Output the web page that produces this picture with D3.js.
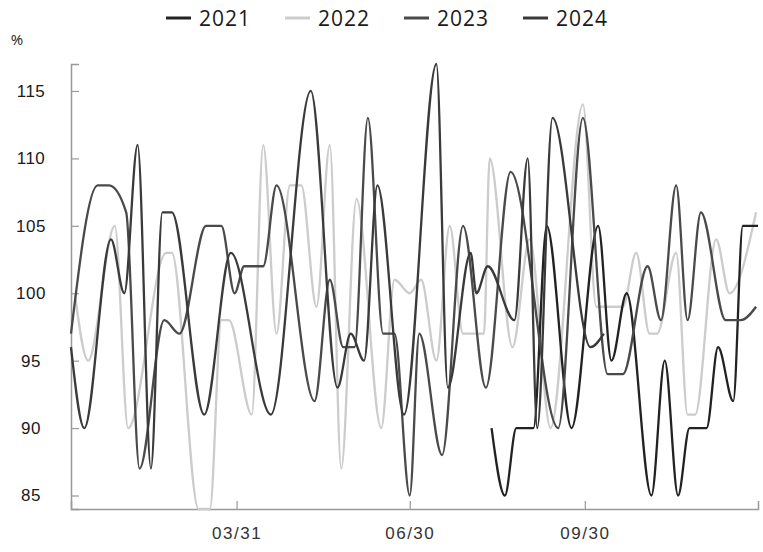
<!DOCTYPE html>
<html>
<head>
<meta charset="utf-8">
<script src="https://cdn.jsdelivr.net/npm/d3@7"></script>
<style>
  body { margin: 0; background: #fff; }
  svg { display: block; font-family: "Open Sans", sans-serif; }
</style>
</head>
<body>
<div id="chart"></div>
<script>
'use strict'

// series labels
const years = ['2021', '2022', '2023', '2024']

// dates (MM/DD) and values, one pair of arrays per year
const dates2021 = ['08/12','08/19','08/25','09/03','09/10','09/23','10/07','10/14','10/22','11/04','11/11','11/18','11/24','12/03','12/09','12/17','12/22','12/30']
const values2021 = [90, 85, 90, 90, 105, 90, 105, 95, 100, 85, 95, 85, 90, 90, 96, 92, 105, 105]

const dates2022 = ['01/05','01/12','01/26','02/02','02/22','02/25','03/11','03/17','03/23','03/27','04/08','04/14','04/21','04/28','05/04','05/12','05/19','05/25','06/02','06/15','06/22','06/30','07/06','07/14','07/21','07/28','08/08','08/11','08/23','09/01','09/12','09/29','10/06','10/20','10/27','11/03','11/07','11/17','11/23','11/27','12/08','12/15','12/29']
const values2022 = [100, 95, 105, 90, 103, 103, 84, 84, 98, 98, 91, 111, 97, 108, 108, 99, 111, 87, 107, 90, 101, 100, 101, 95, 105, 97, 97, 110, 96, 104, 90, 114, 99, 99, 103, 97, 97, 103, 91, 91, 104, 100, 106]

const dates2023 = ['01/03','01/17','01/23','02/01','02/08','02/21','03/01','03/15','03/23','03/30','04/04','04/14','04/21','05/11','05/19','05/26','06/01','06/08','06/16','06/22','06/30','07/05','07/17','07/28','08/09','08/22','09/16','09/29','10/12','10/20','11/02','11/09','11/17','11/23','11/30','12/13','12/21','12/29']
const values2023 = [97, 108, 108, 106, 87, 98, 97, 105, 105, 100, 102, 102, 108, 92, 101, 96, 96, 113, 97, 97, 85, 97, 88, 105, 93, 109, 90, 113, 94, 94, 102, 98, 108, 98, 106, 98, 98, 99]

const dates2024 = ['01/03','01/10','01/24','01/31','02/07','02/14','02/20','02/25','03/14','03/28','04/18','05/09','05/23','05/30','06/06','06/13','06/27','07/14','07/20','08/01','08/04','08/10','08/24','08/31','09/05','09/13','10/03','10/10']
const values2024 = [96, 90, 104, 100, 111, 87, 106, 106, 91, 103, 91, 115, 93, 97, 95, 108, 91, 117, 93, 103, 100, 102, 98, 110, 90, 113, 96, 97]

// x tick labels and y tick values
const xTicks = ['03/31', '06/30', '09/30']
const yTicks = [85, 90, 95, 100, 105, 110, 115]
const xStart = '01/03', xEnd = '12/30'

const colors = ['#222222', '#cccccc', '#4a4a4a', '#3a3a3a']

////////////////////////////////////
//////////// svg setup /////////////
////////////////////////////////////

const svgWidth = 763, svgHeight = 552
const margin = { left: 71, right: 5, top: 64, bottom: 43 }
const width = svgWidth - margin.left - margin.right
const height = svgHeight - margin.top - margin.bottom

const parse = d3.timeParse('%m/%d')

const series = [
    { name: years[0], dates: dates2021, values: values2021 },
    { name: years[1], dates: dates2022, values: values2022 },
    { name: years[2], dates: dates2023, values: values2023 },
    { name: years[3], dates: dates2024, values: values2024 }
].map(s => ({ name: s.name, points: s.dates.map((d, i) => ({ date: parse(d), value: s.values[i] })) }))

const svg = d3.select('#chart')
    .append('svg')
    .attr('width', svgWidth)
    .attr('height', svgHeight)

const g = svg.append('g')
    .attr('transform', `translate(${margin.left},${margin.top})`)

////////////////////////////////////
//////////// Scales ////////////////
////////////////////////////////////

const x = d3.scaleTime()
    .domain([parse(xStart), parse(xEnd)])
    .range([0, width])

const allValues = values2021.concat(values2022, values2023, values2024)
const y = d3.scaleLinear()
    .domain(d3.extent(allValues))
    .range([height, 0])

const color = d3.scaleOrdinal().domain(years).range(colors)

////////////////////////////////////
//////////// axes //////////////////
////////////////////////////////////

const yAxis = g.append('g')
    .call(d3.axisLeft(y).tickValues(yTicks).tickSize(-8).tickPadding(0))
yAxis.select('.domain').attr('stroke', '#999').attr('stroke-width', 1.5)
yAxis.selectAll('.tick line').attr('stroke', '#999').attr('stroke-width', 1.2)
yAxis.selectAll('.tick text')
    .attr('x', -40)
    .attr('text-anchor', 'middle')
    .attr('fill', '#1a1a1a')
    .style('font-size', '17px')
    .style('letter-spacing', '0.5px')

const xAxis = g.append('g')
    .attr('transform', `translate(0,${height})`)
    .call(d3.axisBottom(x).tickValues(xTicks.map(parse)).tickFormat(d3.timeFormat('%m/%d')).tickSize(-8).tickPadding(18))
xAxis.select('.domain').attr('stroke', '#999').attr('stroke-width', 1.5)
xAxis.selectAll('.tick line').attr('stroke', '#999').attr('stroke-width', 1.2)
xAxis.selectAll('.tick text')
    .attr('fill', '#333')
    .style('font-size', '17px')
    .style('letter-spacing', '1.5px')

svg.append('text')
    .attr('x', 17)
    .attr('y', 45)
    .attr('text-anchor', 'middle')
    .attr('fill', '#1a1a1a')
    .style('font-size', '15px')
    .text('%')

////////////////////////////////////
//////////// lines /////////////////
////////////////////////////////////

const line = d3.line()
    .x(d => x(d.date))
    .y(d => y(d.value))
    .curve(d3.curveMonotoneX)

// light series first so the darker ones sit on top
const drawOrder = [series[1], series[0], series[2], series[3]]

g.selectAll('.series')
    .data(drawOrder)
    .join('path')
    .attr('class', 'series')
    .attr('d', d => line(d.points))
    .attr('fill', 'none')
    .attr('stroke', d => color(d.name))
    .attr('stroke-width', 2.3)
    .attr('stroke-linejoin', 'round')

////////////////////////////////////
//////////// legend ////////////////
////////////////////////////////////

const legend = svg.append('g')
    .attr('transform', 'translate(166,18)')

const item = legend.selectAll('.item')
    .data(years)
    .join('g')
    .attr('class', 'item')
    .attr('transform', (d, i) => `translate(${i * 119},0)`)

item.append('line')
    .attr('x1', 0).attr('x2', 25)
    .attr('stroke', d => color(d))
    .attr('stroke-width', 3)

item.append('text')
    .attr('x', 33)
    .attr('y', 8)
    .attr('fill', '#1a1a1a')
    .style('font-size', '21px')
    .style('letter-spacing', '1px')
    .text(d => d)
</script>
</body>
</html>
